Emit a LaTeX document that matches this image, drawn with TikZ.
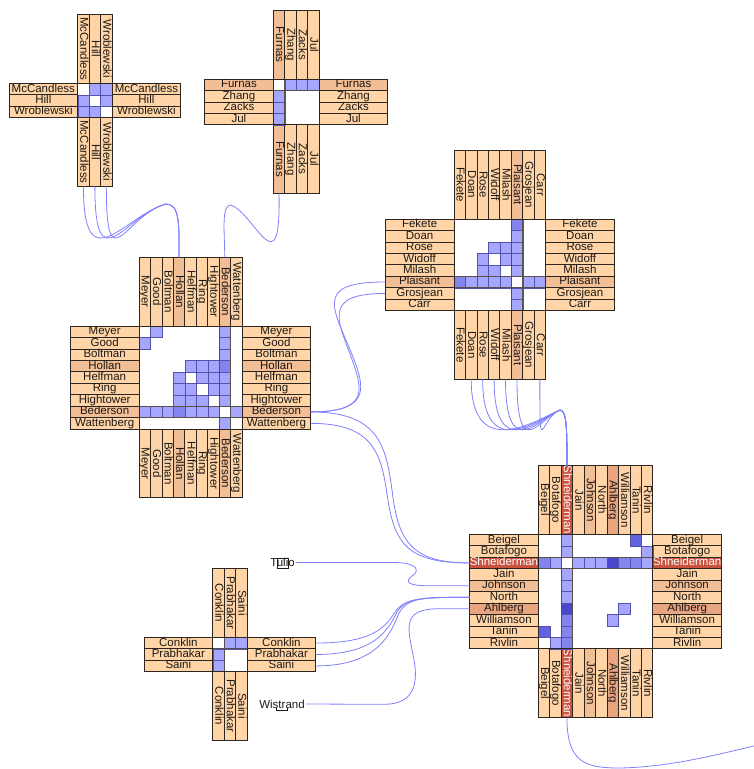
\documentclass[tikz,border=0pt]{standalone}
\usepackage{fontspec}
\setmainfont{Liberation Sans}
\definecolor{labA}{RGB}{255,213,168}
\definecolor{labB}{RGB}{242,190,150}
\definecolor{labC}{RGB}{233,164,128}
\definecolor{labD}{RGB}{201,83,63}
\definecolor{cA}{RGB}{166,166,255}
\definecolor{cB}{RGB}{132,132,238}
\definecolor{cC}{RGB}{72,72,205}
\definecolor{cD}{RGB}{100,100,224}
\definecolor{linkc}{RGB}{128,128,255}
\definecolor{edgec}{RGB}{45,38,32}
\definecolor{ink}{RGB}{30,25,20}
\def\nxs{11.45}
\tikzset{
 lab/.style={draw=edgec, line width=0.8pt, inner sep=0pt, outer sep=0pt,
   minimum width=68.7pt, minimum height=11.45pt, text height=8.3pt, text depth=2.3pt,
   font=\fontsize{11.5}{11.5}\selectfont},
 cell/.style={draw=blue!35!gray, line width=0.4pt},
 xline/.style={draw=edgec!80, line width=0.6pt},
 mframe/.style={draw=edgec, line width=0.8pt},
 conn/.style={draw=linkc, line width=0.8pt},
 freelab/.style={inner sep=1pt, font=\fontsize{11.5}{11.5}\selectfont, text=ink},
}
\newcommand{\nxmatrix}[5]{%
  \fill[white] (#2,#3) rectangle ++({#4*\nxs},{#4*\nxs});
  \foreach \nm/\fc/\tc [count=\k from 0] in {#5} {
    \node[lab,fill=\fc,text=\tc,anchor=north east] (#1-L\k) at ({#2},{#3+\k*\nxs}) {\nm};
    \node[lab,fill=\fc,text=\tc,anchor=north west] (#1-R\k) at ({#2+#4*\nxs},{#3+\k*\nxs}) {\nm};
    \node[lab,fill=\fc,text=\tc,rotate=-90,anchor=east] (#1-T\k) at ({#2+(\k+0.5)*\nxs},{#3}) {\nm};
    \node[lab,fill=\fc,text=\tc,rotate=-90,anchor=west] (#1-B\k) at ({#2+(\k+0.5)*\nxs},{#3+#4*\nxs}) {\nm};
  }
}
\newcommand{\nxcells}[3]{%
  \foreach \nxr/\nxc/\nxcol in {#3} {
    \filldraw[cell,fill=\nxcol] ({#1+\nxc*\nxs},{#2+\nxr*\nxs}) rectangle ++(\nxs,\nxs);
  }
}
\newcommand{\nxcross}[4]{%
  \draw[xline] (#1,{#2+#4*\nxs}) -- ++({#3*\nxs},0)
               (#1,{#2+(#4+1)*\nxs}) -- ++({#3*\nxs},0)
               ({#1+#4*\nxs},#2) -- ++(0,{#3*\nxs})
               ({#1+(#4+1)*\nxs},#2) -- ++(0,{#3*\nxs});
}
\newcommand{\nxframe}[3]{%
  \draw[mframe] (#1,#2) rectangle ++({#3*\nxs},{#3*\nxs});
}
\begin{document}
\begin{tikzpicture}[x=1pt,y=-1pt]
\fill[white] (0,0) rectangle (754,769);
\useasboundingbox (0,0) rectangle (754,769);

% ---- matrix 1
\nxmatrix{m1}{77.7}{83.3}{3}{McCandless/labA/ink,Hill/labA/ink,Wroblewski/labA/ink}
\nxcells{77.7}{83.3}{0/1/cA,0/2/cA,1/0/cA,1/2/cA,2/0/cA,2/1/cA}
\nxframe{77.7}{83.3}{3}

% ---- matrix 2
\nxmatrix{m2}{273.3}{79}{4}{Furnas/labB/ink,Zhang/labA/ink,Zacks/labA/ink,Jul/labA/ink}
\nxcells{273.3}{79}{0/1/cA,0/2/cA,0/3/cA,1/0/cA,2/0/cA,3/0/cA}
\nxcross{273.3}{79}{4}{0}
\nxframe{273.3}{79}{4}

% ---- matrix 3
\nxmatrix{m3}{454}{219}{8}{Fekete/labA/ink,Doan/labA/ink,Rose/labA/ink,Widoff/labA/ink,Milash/labA/ink,Plaisant/labB/ink,Grosjean/labA/ink,Carr/labA/ink}
\nxcells{454}{219}{0/5/cB,1/5/cA,2/3/cA,2/4/cA,2/5/cA,3/2/cA,3/4/cA,3/5/cA,4/2/cA,4/3/cA,4/5/cA,5/0/cB,5/1/cA,5/2/cA,5/3/cA,5/4/cA,5/6/cA,5/7/cA,6/5/cA,7/5/cA}
\nxcross{454}{219}{8}{5}
\nxframe{454}{219}{8}

% ---- matrix 4
\nxmatrix{m4}{139}{326}{9}{Meyer/labA/ink,Good/labA/ink,Boltman/labA/ink,Hollan/labB/ink,Helfman/labA/ink,Ring/labA/ink,Hightower/labA/ink,Bederson/labB/ink,Wattenberg/labA/ink}
\nxcells{139}{326}{0/1/cA,0/7/cA,1/0/cA,1/7/cA,2/7/cA,3/4/cA,3/5/cA,3/6/cA,3/7/cB,4/3/cA,4/5/cA,4/6/cA,4/7/cA,5/3/cA,5/4/cA,5/6/cA,5/7/cA,6/3/cA,6/4/cA,6/5/cA,6/7/cA,7/0/cA,7/1/cA,7/2/cA,7/3/cB,7/4/cA,7/5/cA,7/6/cA,7/8/cA,8/7/cA}
\nxcross{139}{326}{9}{7}
\nxframe{139}{326}{9}

% ---- matrix 5
\nxmatrix{m5}{538.3}{534.3}{10}{Beigel/labA/ink,Botafogo/labA/ink,Shneiderman/labD/white,Jain/labA/ink,Johnson/labB/ink,North/labA/ink,Ahlberg/labC/ink,Williamson/labA/ink,Tanin/labA/ink,Rivlin/labA/ink}
\nxcells{538.3}{534.3}{0/2/cA,0/8/cD,1/2/cA,1/9/cA,2/0/cB,2/1/cA,2/3/cA,2/4/cA,2/5/cA,2/6/cC,2/7/cB,2/8/cB,2/9/cA,3/2/cA,4/2/cA,5/2/cA,6/2/cC,6/7/cA,7/2/cB,7/6/cA,8/0/cD,8/2/cB,9/1/cA,9/2/cB}
\nxcross{538.3}{534.3}{10}{2}
\nxframe{538.3}{534.3}{10}

% ---- matrix 6
\nxmatrix{m6}{212.7}{637.3}{3}{Conklin/labA/ink,Prabhakar/labA/ink,Saini/labA/ink}
\nxcells{212.7}{637.3}{0/1/cA,0/2/cA,1/0/cA,2/0/cA}
\nxcross{212.7}{637.3}{3}{0}
\nxframe{212.7}{637.3}{3}

% ---- free labels
\node[freelab] (tulio) at (282.5,562.5) {Tulio};
\node[freelab] (wist) at (282,704) {Wistrand};
\draw[ink, line width=0.5pt] (277.5,558.5) rectangle (288,568.5);
\draw[ink, line width=0.5pt] (276.5,707.5) -- (276.5,710.5) -- (287,710.5) -- (287,707.5);
\coordinate (offR) at (754,746);

% ---- links
\foreach \j in {0,1,2}
  \draw[conn] (m1-B\j.east) .. controls +(0,98) and (125,215) .. (166,204)
              .. controls (180,204) and (179,225) .. (m4-T3.west);
\draw[conn] (m2-B0.east) .. controls +(2,96) and (255,214) .. (231,205)
            .. controls (222,205) and (224,225) .. (m4-T7.west);
\draw[conn] (m4-R7.east) .. controls (368,412) and (365,390) .. (355,362)
            .. controls (335,310) and (310,282) .. (m3-L5.west);
\draw[conn] (m4-R7.east) .. controls (366,412) and (363,392) .. (354,365)
            .. controls (340,324) and (318,293.4) .. (m3-L6.west);
\draw[conn] (m4-R7.east) .. controls (378,412) and (386,445) .. (392,490)
            .. controls (398,540) and (410,563) .. (m5-L2.west);
\draw[conn] (m4-R8.east) .. controls (372,423.4) and (381,452) .. (387,494)
            .. controls (394,543) and (406,563) .. (m5-L2.west);
\draw[conn] (tulio.east) -- (395,562.5) .. controls (420,563) and (419,572) .. (412,576)
            .. controls (404,582) and (408,585.8) .. (430,585.8) -- (m5-L4.west);
\draw[conn] (m6-R0.east) .. controls (372,643) and (385,628) .. (395,612)
            .. controls (405,598) and (420,597.3) .. (m5-L5.west);
\draw[conn] (m6-R1.east) .. controls (375,654.5) and (388,630) .. (397,612)
            .. controls (406,598) and (420,597.3) .. (m5-L5.west);
\draw[conn] (m6-R2.east) .. controls (378,666) and (391,633) .. (399,613)
            .. controls (408,598) and (420,597.3) .. (m5-L5.west);
\draw[conn] (wist.east) -- (385,704.3) .. controls (415,704) and (418,682) .. (414,660)
            .. controls (408,628) and (400,608.7) .. (440,608.7) -- (m5-L6.west);
\foreach \j in {1,2,3,4,5,7}
  \draw[conn] (m3-B\j.east) .. controls +(0,85) and (540,418) .. (560,410)
              .. controls (567,410) and (567,432) .. (m5-T2.west);
\draw[conn] (m5-B2.east) .. controls +(0,45) and (585,768) .. (620,768)
            .. controls (670,767) and (715,755) .. (offR);
\end{tikzpicture}
\end{document}
